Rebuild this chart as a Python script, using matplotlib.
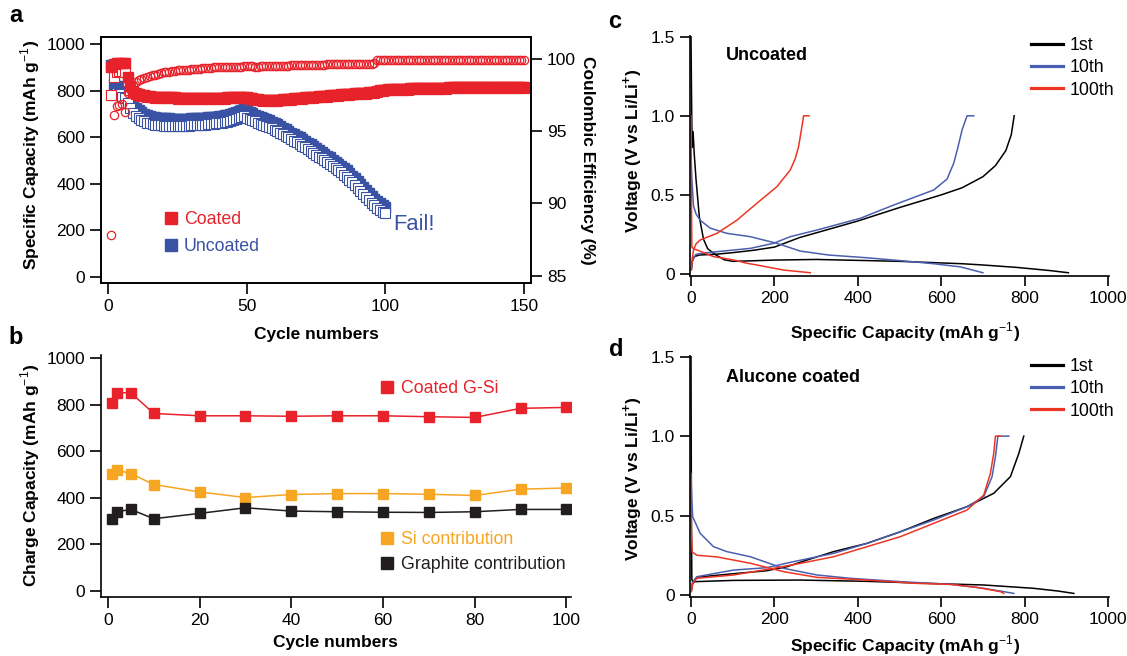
import matplotlib
matplotlib.use("Agg")
import matplotlib.pyplot as plt
from matplotlib.lines import Line2D

plt.rcParams['font.family'] = ['Liberation Sans', 'DejaVu Sans']
plt.rcParams['mathtext.fontset'] = 'custom'
plt.rcParams['mathtext.rm'] = 'Liberation Sans'
plt.rcParams['mathtext.bf'] = 'Liberation Sans:bold'
plt.rcParams['font.size'] = 12

# ---------------- Panel a data ----------------
cycles_a = list(range(1, 151))
coated_filled = [
    900, 915, 920, 920, 920, 918, 860, 820, 800, 790,
    785, 782, 780, 778, 776, 775, 774, 773, 772, 772,
    772, 771, 771, 771, 770, 770, 770, 770, 770, 770,
    770, 770, 770, 770, 770, 770, 770, 770, 770, 770,
    770, 770, 771, 771, 772, 772, 772, 772, 772, 771,
    770, 768, 766, 764, 762, 761, 760, 760, 760, 760,
    761, 762, 763, 764, 765, 766, 767, 768, 769, 770,
    771, 772, 773, 774, 775, 776, 777, 778, 779, 780,
    781, 782, 783, 784, 785, 786, 787, 788, 789, 790,
    790, 791, 792, 793, 794, 795, 800, 802, 804, 805,
    806, 806, 807, 807, 808, 808, 809, 809, 810, 810,
    810, 811, 811, 811, 812, 812, 812, 812, 813, 813,
    813, 813, 814, 814, 814, 814, 815, 815, 815, 815,
    815, 815, 816, 816, 816, 816, 816, 817, 817, 817,
    817, 817, 817, 817, 817, 816, 816, 816, 816, 816]
coated_open = [
    780, 860, 880, 885, 885, 880, 840, 805, 790, 784,
    780, 778, 776, 774, 772, 771, 770, 769, 768, 768,
    768, 767, 767, 767, 766, 766, 766, 766, 766, 766,
    766, 766, 766, 766, 766, 766, 766, 766, 766, 766,
    766, 766, 767, 767, 768, 768, 768, 768, 768, 767,
    766, 764, 762, 760, 758, 757, 756, 756, 756, 756,
    757, 758, 759, 760, 761, 762, 763, 764, 765, 766,
    767, 768, 769, 770, 771, 772, 773, 774, 775, 776,
    777, 778, 779, 780, 781, 782, 783, 784, 785, 786,
    786, 787, 788, 789, 790, 791, 796, 798, 800, 801,
    802, 802, 803, 803, 804, 804, 805, 805, 806, 806,
    806, 807, 807, 807, 808, 808, 808, 808, 809, 809,
    809, 809, 810, 810, 810, 810, 811, 811, 811, 811,
    811, 811, 812, 812, 812, 812, 812, 813, 813, 813,
    813, 813, 813, 813, 813, 812, 812, 812, 812, 812]
cycles_unc = list(range(1, 101))
uncoated_filled = [
    910, 830, 822, 815, 808, 800, 775, 755, 738, 725,
    715, 707, 700, 695, 691, 688, 686, 684, 683, 682,
    681, 681, 680, 680, 680, 680, 680, 680, 680, 681,
    681, 682, 682, 683, 684, 685, 686, 687, 689, 690,
    692, 694, 697, 700, 704, 708, 712, 716, 720, 714,
    708, 702, 697, 692, 687, 682, 677, 672, 667, 661,
    655, 648, 641, 634, 627, 620, 613, 606, 599, 592,
    585, 577, 569, 561, 553, 545, 537, 529, 521, 513,
    504, 495, 486, 477, 467, 457, 446, 435, 423, 411,
    398, 385, 372, 359, 346, 336, 326, 316, 307, 298]
uncoated_open = [
    780, 780, 790, 785, 775, 770, 745, 725, 705, 692,
    683, 675, 668, 663, 659, 656, 654, 652, 651, 650,
    650, 650, 650, 650, 650, 650, 650, 650, 650, 651,
    651, 652, 652, 653, 654, 655, 656, 657, 659, 660,
    662, 664, 667, 670, 674, 678, 682, 686, 690, 684,
    680, 674, 668, 663, 658, 653, 648, 643, 638, 632,
    627, 620, 613, 606, 599, 592, 585, 578, 571, 564,
    557, 549, 541, 533, 525, 517, 509, 501, 493, 485,
    476, 467, 458, 449, 439, 429, 418, 407, 395, 383,
    370, 357, 344, 331, 318, 307, 297, 288, 280, 272]
coulombic_eff = [
    87.8, 96.1, 96.7, 96.8, 96.9, 96.3, 97.6, 97.9, 98.2, 98.4,
    98.5, 98.6, 98.7, 98.75, 98.8, 98.85, 98.9, 98.95, 99.0, 99.05,
    99.1, 99.1, 99.15, 99.15, 99.2, 99.2, 99.2, 99.25, 99.25, 99.3,
    99.3, 99.3, 99.3, 99.35, 99.35, 99.35, 99.35, 99.4, 99.4, 99.4,
    99.4, 99.4, 99.4, 99.45, 99.45, 99.45, 99.45, 99.45, 99.5, 99.5,
    99.5, 99.5, 99.45, 99.45, 99.5, 99.5, 99.5, 99.5, 99.5, 99.5,
    99.5, 99.5, 99.5, 99.5, 99.5, 99.55, 99.55, 99.55, 99.55, 99.55,
    99.55, 99.55, 99.55, 99.55, 99.55, 99.55, 99.55, 99.55, 99.6, 99.6,
    99.6, 99.6, 99.6, 99.6, 99.6, 99.6, 99.6, 99.6, 99.6, 99.6,
    99.6, 99.6, 99.65, 99.65, 99.65, 99.7, 99.88, 99.88, 99.88, 99.88,
    99.88, 99.88, 99.88, 99.88, 99.88, 99.88, 99.88, 99.88, 99.88, 99.88,
    99.88, 99.88, 99.88, 99.88, 99.88, 99.88, 99.88, 99.88, 99.88, 99.88,
    99.88, 99.88, 99.88, 99.88, 99.88, 99.88, 99.88, 99.88, 99.88, 99.88,
    99.88, 99.88, 99.88, 99.88, 99.88, 99.88, 99.88, 99.88, 99.88, 99.88,
    99.88, 99.88, 99.88, 99.88, 99.88, 99.88, 99.88, 99.88, 99.88, 99.88]

# ---------------- Panel b data ----------------
cycles_b = [1, 2, 5, 10, 20, 30, 40, 50, 60, 70, 80, 90, 100]
coated_gsi = [805, 851, 851, 762, 752, 752, 750, 752, 752, 748, 745, 784, 788]
si_contrib = [501, 519, 504, 457, 425, 401, 414, 418, 418, 415, 410, 437, 442]
graphite_contrib = [307, 340, 350, 310, 333, 357, 343, 340, 338, 337, 340, 350, 350]

# ---------------- Panel c data (Uncoated) ----------------
unc_1st_dis_cap = [0, 1, 2, 3, 5, 8, 12, 20, 30, 40, 60, 80, 100, 140, 200, 300, 420, 500, 580, 650, 700, 780, 860, 905]
unc_1st_dis_v = [1.5, 1.2, 0.95, 0.8, 0.9, 0.75, 0.6, 0.36, 0.22, 0.16, 0.12, 0.09, 0.08, 0.083, 0.088, 0.092, 0.085, 0.08, 0.072, 0.065, 0.057, 0.042, 0.022, 0.008]
unc_1st_chg_cap = [1, 3, 8, 20, 60, 100, 150, 200, 230, 260, 300, 400, 500, 600, 650, 700, 730, 755, 768, 775]
unc_1st_chg_v = [0.03, 0.08, 0.11, 0.12, 0.125, 0.135, 0.15, 0.17, 0.2, 0.23, 0.26, 0.335, 0.42, 0.5, 0.545, 0.615, 0.685, 0.78, 0.88, 1.0]
unc_10th_dis_cap = [0, 2, 6, 12, 22, 46, 86, 142, 206, 262, 330, 420, 500, 582, 646, 700]
unc_10th_dis_v = [0.75, 0.6, 0.43, 0.38, 0.34, 0.29, 0.257, 0.236, 0.194, 0.145, 0.12, 0.103, 0.085, 0.065, 0.045, 0.008]
unc_10th_chg_cap = [1, 4, 12, 40, 62, 142, 198, 238, 302, 406, 486, 582, 614, 630, 640, 650, 662, 678]
unc_10th_chg_v = [0.04, 0.09, 0.125, 0.135, 0.141, 0.162, 0.194, 0.236, 0.278, 0.352, 0.436, 0.531, 0.6, 0.7, 0.8, 0.91, 1.0, 1.0]
unc_100th_dis_cap = [0, 1, 2, 6, 14, 54, 102, 134, 158, 222, 286]
unc_100th_dis_v = [1.0, 0.5, 0.17, 0.16, 0.152, 0.11, 0.089, 0.068, 0.057, 0.025, 0.008]
unc_100th_chg_cap = [1, 3, 6, 12, 22, 62, 110, 158, 206, 238, 250, 258, 266, 270, 283]
unc_100th_chg_v = [0.025, 0.1, 0.15, 0.19, 0.215, 0.257, 0.34, 0.447, 0.552, 0.657, 0.73, 0.805, 0.931, 1.0, 1.0]

# ---------------- Panel d data (Alucone coated) ----------------
coat_1st_dis_cap = [0, 1, 2, 5, 10, 102, 262, 422, 582, 702, 822, 880, 918]
coat_1st_dis_v = [1.5, 0.5, 0.1, 0.075, 0.084, 0.092, 0.094, 0.086, 0.072, 0.063, 0.042, 0.025, 0.01]
coat_1st_chg_cap = [1, 4, 14, 102, 182, 230, 278, 342, 422, 502, 582, 662, 726, 766, 786, 798]
coat_1st_chg_v = [0.03, 0.08, 0.112, 0.134, 0.153, 0.178, 0.22, 0.273, 0.325, 0.398, 0.482, 0.556, 0.64, 0.745, 0.89, 1.0]
coat_10th_dis_cap = [0, 2, 4, 22, 54, 86, 142, 222, 302, 382, 502, 622, 702, 750, 774]
coat_10th_dis_v = [0.766, 0.6, 0.493, 0.388, 0.304, 0.273, 0.241, 0.168, 0.126, 0.105, 0.084, 0.067, 0.042, 0.021, 0.01]
coat_10th_chg_cap = [1, 4, 14, 102, 182, 246, 342, 422, 502, 582, 662, 702, 722, 730, 736, 762]
coat_10th_chg_v = [0.031, 0.08, 0.115, 0.157, 0.172, 0.21, 0.262, 0.325, 0.398, 0.472, 0.556, 0.619, 0.745, 0.87, 1.0, 1.0]
coat_100th_dis_cap = [0, 1, 3, 14, 62, 142, 222, 302, 422, 542, 622, 686, 742, 750]
coat_100th_dis_v = [0.71, 0.4, 0.27, 0.25, 0.24, 0.2, 0.147, 0.111, 0.094, 0.073, 0.067, 0.048, 0.021, 0.01]
coat_100th_chg_cap = [1, 4, 14, 102, 198, 262, 342, 422, 502, 582, 662, 702, 718, 726, 730, 742]
coat_100th_chg_v = [0.021, 0.07, 0.105, 0.126, 0.168, 0.199, 0.241, 0.304, 0.367, 0.451, 0.535, 0.629, 0.766, 0.892, 1.0, 1.0]

cycle_labels = ['1st', '10th', '100th']

RED = '#E8222A'
BLUE = '#3A52A3'
ORANGE = '#F6A623'
BLACK = '#221E1F'
C_BLACK = '#000000'
C_BLUE = '#4B5FB1'
C_RED = '#EE3524'

W, H = 1127, 656
fig = plt.figure(figsize=(W / 100, H / 100), dpi=100)


def rect(l, t, r, b):
    return [l / W, 1 - b / H, (r - l) / W, (b - t) / H]


def ftxt(x, y, s, **kw):
    fig.text(x / W, 1 - y / H, s, **kw)


SP = 1.2
LAB = 12.5
TICK = dict(direction='out', length=8, width=1.2, labelsize=12.5, pad=3.5)

# ---------------- Panel a ----------------
ax = fig.add_axes(rect(101, 37, 531, 283))
ax.plot(cycles_unc, uncoated_filled, 's', ms=7, color=BLUE, mec=BLUE, zorder=2)
ax.plot(cycles_unc, uncoated_open, 's', ms=6.5, mfc='white', mec=BLUE, mew=0.8, zorder=3)
ax.plot(cycles_a, coated_open, 's', ms=6.5, mfc='white', mec=RED, mew=0.8, zorder=4)
ax.plot(cycles_a, coated_filled, 's', ms=7, color=RED, mec=RED, zorder=5)
ax.set_xlim(-2.6, 152.5)
ax.set_ylim(-27, 1031)
ax.set_xticks([0, 50, 100, 150])
ax.set_yticks([0, 200, 400, 600, 800, 1000])
ax.tick_params(**TICK)
for s in ax.spines.values():
    s.set_linewidth(SP)
ax2 = ax.twinx()
ax2.plot(cycles_a, coulombic_eff, 'o', ms=6, mfc='none', mec=RED, mew=0.9)
ax2.set_ylim(84.5, 101.5)
ax2.set_yticks([85, 90, 95, 100])
ax2.tick_params(**TICK)
for s in ax2.spines.values():
    s.set_linewidth(SP)

h_a = [Line2D([], [], ls='none', marker='s', ms=8, color=RED),
       Line2D([], [], ls='none', marker='s', ms=8, color=BLUE)]
ax.legend(h_a, ['Coated', 'Uncoated'], loc='upper left',
          bbox_to_anchor=(166 / W, 1 - 211 / H), bbox_transform=fig.transFigure,
          frameon=False, fontsize=12.8, handlelength=0.6, handletextpad=0.4,
          labelspacing=0.55, borderpad=0, borderaxespad=0,
          labelcolor=[RED, BLUE])
ftxt(393, 225, 'Fail!', fontsize=15.8, color=BLUE, ha='left', va='center')
ftxt(30, 155, r'Specific Capacity (mAh g$^{-1}$)', rotation=90, ha='center', va='center',
     fontsize=LAB, fontweight='bold')
ftxt(588, 160, 'Coulombic Efficiency (%)', rotation=-90, ha='center', va='center',
     fontsize=LAB, fontweight='bold')
ftxt(316, 334, 'Cycle numbers', ha='center', va='center', fontsize=LAB, fontweight='bold')

# ---------------- Panel b ----------------
bx = fig.add_axes(rect(101, 355, 571, 597))
bx.plot(cycles_b, coated_gsi, '-s', color=RED, lw=1.1, ms=7.5)
bx.plot(cycles_b, si_contrib, '-s', color=ORANGE, lw=1.1, ms=7.5)
bx.plot(cycles_b, graphite_contrib, '-s', color=BLACK, lw=1.1, ms=7.5)
bx.set_xlim(-1.5, 101.0)
bx.set_ylim(-26, 1013)
bx.set_xticks([0, 20, 40, 60, 80, 100])
bx.set_yticks([0, 200, 400, 600, 800, 1000])
bx.tick_params(**TICK)
for k in ['top', 'right']:
    bx.spines[k].set_visible(False)
for k in ['left', 'bottom']:
    bx.spines[k].set_linewidth(SP)
hb1 = [Line2D([], [], ls='none', marker='s', ms=8, color=RED)]
lb1 = bx.legend(hb1, ['Coated G-Si'], loc='upper left',
                bbox_to_anchor=(382 / W, 1 - 380 / H), bbox_transform=fig.transFigure,
                frameon=False, fontsize=12.8, handlelength=0.6, handletextpad=0.45,
                borderpad=0, borderaxespad=0, labelcolor=[RED])
bx.add_artist(lb1)
hb2 = [Line2D([], [], ls='none', marker='s', ms=8, color=ORANGE),
       Line2D([], [], ls='none', marker='s', ms=8, color=BLACK)]
bx.legend(hb2, ['Si contribution', 'Graphite contribution'], loc='upper left',
          bbox_to_anchor=(382 / W, 1 - 531 / H), bbox_transform=fig.transFigure,
          frameon=False, fontsize=12.8, handlelength=0.6, handletextpad=0.45,
          labelspacing=0.45, borderpad=0, borderaxespad=0, labelcolor=[ORANGE, BLACK])
ftxt(30, 475, r'Charge Capacity (mAh g$^{-1}$)', rotation=90, ha='center', va='center',
     fontsize=LAB, fontweight='bold')
ftxt(335, 643, 'Cycle numbers', ha='center', va='center', fontsize=LAB, fontweight='bold')

# ---------------- Panels c, d ----------------
def vpanel(r, curves, title, title_y, label_y, xlab_y, leg_top):
    a = fig.add_axes(rect(*r))
    for (cap, v, col) in curves:
        a.plot(cap, v, color=col, lw=1.1)
    a.set_xlim(-2.4, 1001.2)
    a.set_ylim(-0.0126, 1.5044)
    a.set_xticks([0, 200, 400, 600, 800, 1000])
    a.set_yticks([0, 0.5, 1.0, 1.5])
    a.set_yticklabels(['0', '0.5', '1.0', '1.5'])
    a.tick_params(**dict(TICK, length=7.5))
    for k in ['top', 'right']:
        a.spines[k].set_visible(False)
    for k in ['left', 'bottom']:
        a.spines[k].set_linewidth(SP)
    hs = [Line2D([], [], color=C_BLACK, lw=2.3),
          Line2D([], [], color=C_BLUE, lw=2.3),
          Line2D([], [], color=C_RED, lw=2.3)]
    a.legend(hs, cycle_labels, loc='upper left',
             bbox_to_anchor=(1031 / W, 1 - leg_top / H), bbox_transform=fig.transFigure,
             frameon=False, fontsize=12.8, handlelength=1.8, handletextpad=0.4,
             labelspacing=0.3, borderpad=0, borderaxespad=0)
    ftxt(726, title_y, title, ha='left', va='center', fontsize=13, fontweight='bold')
    ftxt(633, label_y, r'Voltage (V vs Li/Li$^{\mathbf{+}}$)', rotation=90, ha='center',
         va='center', fontsize=LAB, fontweight='bold')
    ftxt(905, xlab_y, r'Specific Capacity (mAh g$^{-1}$)', ha='center', va='center',
         fontsize=LAB, fontweight='bold')
    return a


vpanel((690, 36, 1108.5, 276),
       [(unc_1st_dis_cap, unc_1st_dis_v, C_BLACK), (unc_1st_chg_cap, unc_1st_chg_v, C_BLACK),
        (unc_10th_dis_cap, unc_10th_dis_v, C_BLUE), (unc_10th_chg_cap, unc_10th_chg_v, C_BLUE),
        (unc_100th_dis_cap, unc_100th_dis_v, C_RED), (unc_100th_chg_cap, unc_100th_chg_v, C_RED)],
       'Uncoated', 55, 151, 332, 37)
vpanel((690, 356, 1108.5, 597),
       [(coat_1st_dis_cap, coat_1st_dis_v, C_BLACK), (coat_1st_chg_cap, coat_1st_chg_v, C_BLACK),
        (coat_10th_dis_cap, coat_10th_dis_v, C_BLUE), (coat_10th_chg_cap, coat_10th_chg_v, C_BLUE),
        (coat_100th_dis_cap, coat_100th_dis_v, C_RED), (coat_100th_chg_cap, coat_100th_chg_v, C_RED)],
       'Alucone coated', 378, 479, 645, 358)

# panel letters
for (x, y, s) in [(16, 16, 'a'), (16, 338, 'b'), (615, 21, 'c'), (616, 349, 'd')]:
    ftxt(x, y, s, ha='center', va='center', fontsize=17, fontweight='bold')

fig.savefig('out.png', dpi=100)
